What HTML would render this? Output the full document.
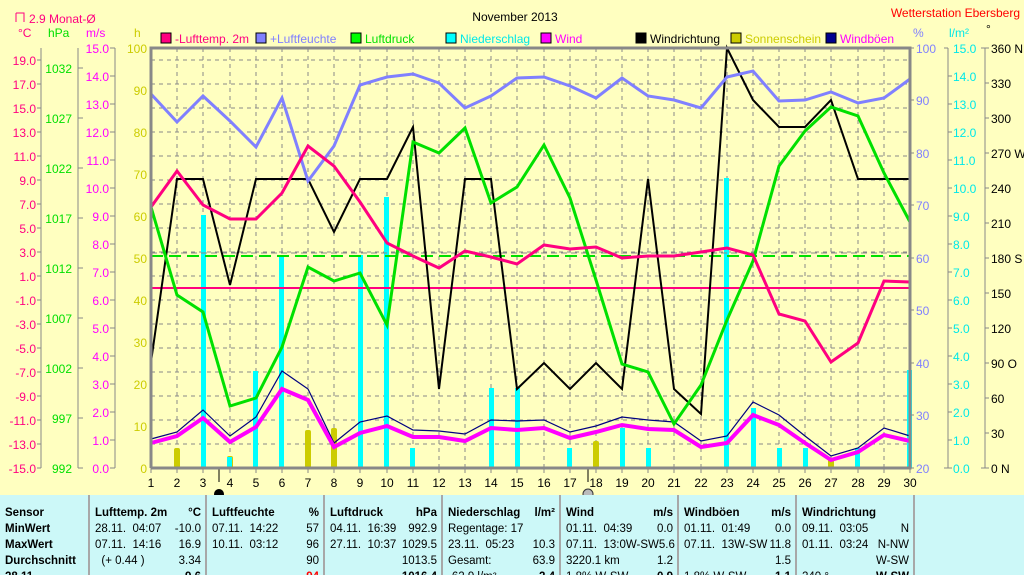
<!DOCTYPE html>
<html><head><meta charset="utf-8"><style>
body{margin:0;width:1024px;height:575px;overflow:hidden;background:#ffffc0;font-family:"Liberation Sans",sans-serif}
svg{position:absolute;left:0;top:0}
text{font-family:"Liberation Sans",sans-serif;font-size:12px}
.tb{position:absolute;left:0;top:495px;width:1024px;height:80px;background:#ccf8f8}
.c{position:absolute;top:0;height:80px;border-right:2px solid #a8a8a8;font-size:11.5px;line-height:16px;padding-top:10px;box-sizing:border-box;overflow:hidden}
.r{display:flex;justify-content:space-between;padding:0 4px 0 5px;white-space:pre;height:16px}
b{font-weight:bold}
</style></head><body>
<svg width="1024" height="495" viewBox="0 0 1024 495">
<g stroke="#888" stroke-dasharray="4,4" stroke-width="1">
<path d="M151 60H910M151 84H910M151 108H910M151 132H910M151 156H910M151 180H910M151 204H910M151 228H910M151 252H910M151 276H910M151 300H910M151 324H910M151 348H910M151 372H910M151 396H910M151 420H910M151 444H910"/>
<path d="M177 48V468M203 48V468M230 48V468M256 48V468M282 48V468M308 48V468M334 48V468M360 48V468M387 48V468M413 48V468M439 48V468M465 48V468M491 48V468M517 48V468M544 48V468M570 48V468M596 48V468M622 48V468M648 48V468M674 48V468M701 48V468M727 48V468M753 48V468M779 48V468M805 48V468M831 48V468M858 48V468M884 48V468"/>
</g>
<g stroke="#888"><path d="M151 468v5M177 468v5M203 468v5M230 468v5M256 468v5M282 468v5M308 468v5M334 468v5M360 468v5M387 468v5M413 468v5M439 468v5M465 468v5M491 468v5M517 468v5M544 468v5M570 468v5M596 468v5M622 468v5M648 468v5M674 468v5M701 468v5M727 468v5M753 468v5M779 468v5M805 468v5M831 468v5M858 468v5M884 468v5M910 468v5"/></g>
<path d="M219 468v14M588 468v14" stroke="#000"/>
<g fill="#cccc00">
<rect x="174" y="448" width="6" height="20" rx="2"/><rect x="227" y="456" width="6" height="12" rx="2"/><rect x="253" y="448" width="5" height="20" rx="2"/><rect x="305" y="430" width="6" height="38" rx="2"/><rect x="331" y="428" width="6" height="40" rx="2"/><rect x="593" y="441" width="6" height="27" rx="2"/><rect x="828" y="458" width="6" height="10" rx="2"/><rect x="907" y="450" width="3" height="18"/>
</g>
<g fill="#00ffff">
<rect x="201" y="215" width="5" height="253"/><rect x="227" y="457" width="5" height="11"/><rect x="253" y="371" width="5" height="97"/><rect x="279" y="255" width="5" height="213"/><rect x="358" y="255" width="5" height="213"/><rect x="384" y="197" width="5" height="271"/><rect x="410" y="448" width="5" height="20"/><rect x="489" y="388" width="5" height="80"/><rect x="515" y="388" width="5" height="80"/><rect x="567" y="448" width="5" height="20"/><rect x="620" y="428" width="5" height="40"/><rect x="646" y="448" width="5" height="20"/><rect x="724" y="178" width="5" height="290"/><rect x="751" y="408" width="5" height="60"/><rect x="777" y="448" width="5" height="20"/><rect x="803" y="448" width="5" height="20"/><rect x="855" y="448" width="5" height="20"/><rect x="907" y="370" width="5" height="98"/>
</g>
<path d="M151 288H910" stroke="#ff0080" stroke-width="2"/>
<path d="M151 253H910" stroke="#888" stroke-dasharray="6,4"/>
<path d="M151 256H910" stroke="#00e000" stroke-width="2" stroke-dasharray="12,6"/>
<polyline fill="none" stroke="#000080" stroke-width="1.2" points="151,439 177,432 203,410 230,436 256,417 282,371 308,389 334,443 360,422 387,416 413,430 439,431 465,434 491,420 517,421 544,420 570,432 596,426 622,417 648,420 674,422 701,441 727,436 753,402 779,415 805,436 831,456 858,448 884,428 910,436"/>
<polyline fill="none" stroke="#ff00ff" stroke-width="4" points="151,443 177,436 203,418 230,442 256,427 282,389 308,400 334,447 360,433 387,426 413,437 439,437 465,441 491,428 517,430 544,428 570,438 596,432 622,425 648,429 674,430 701,447 727,443 753,415 779,425 805,443 831,460 858,452 884,435 910,441"/>
<polyline fill="none" stroke="#000" stroke-width="2" points="151,362 177,179 203,179 230,285 256,179 282,179 308,179 334,232 360,179 387,179 413,127 439,389 465,179 491,179 517,389 544,363 570,389 596,363 622,389 648,179 674,389 701,414 727,48 753,100 779,127 805,127 831,100 858,179 884,179 910,179"/>
<polyline fill="none" stroke="#00e000" stroke-width="3" points="151,207 177,295 203,312 230,406 256,398 282,347 308,267 334,281 360,273 387,325 413,142 439,153 465,128 491,203 517,187 544,145 570,198 596,280 622,364 648,372 674,424 701,385 727,320 753,261 779,166 805,131 831,107 858,116 884,173 910,222"/>
<polyline fill="none" stroke="#8080ff" stroke-width="3" points="151,94 177,122 203,96 230,121 256,147 282,98 308,181 334,146 360,85 387,77 413,74 439,83 465,108 491,96 517,78 544,77 570,86 596,98 622,78 648,96 674,100 701,108 727,77 753,71 779,101 805,100 831,92 858,103 884,98 910,79"/>
<polyline fill="none" stroke="#ff0080" stroke-width="3" points="151,207 177,171 203,205 230,219 256,219 282,193 308,146 334,166 360,202 387,243 413,256 439,268 465,251 491,257 517,264 544,245 570,249 596,247 622,258 648,256 674,256 701,252 727,248 753,255 779,314 805,321 831,362 858,343 884,281 910,282"/>
<path d="M151 468V48H910V468H151" fill="none" stroke="#888" stroke-width="3"/>
<g stroke="#888"><path d="M41 48V468M78 48V468M115 48V468M948 48V468M985 48V468"/>
<path d="M37 60h4M37 84h4M37 108h4M37 132h4M37 156h4M37 180h4M37 204h4M37 228h4M37 252h4M37 276h4M37 300h4M37 324h4M37 348h4M37 372h4M37 396h4M37 420h4M37 444h4M37 468h4"/>
<path d="M78 68h5M78 118h5M78 168h5M78 218h5M78 268h5M78 318h5M78 368h5M78 418h5M78 468h5"/>
<path d="M110 48h5M110 76h5M110 104h5M110 132h5M110 160h5M110 188h5M110 216h5M110 244h5M110 272h5M110 300h5M110 328h5M110 356h5M110 384h5M110 412h5M110 440h5M110 468h5"/>
<path d="M910 48h4M910 100h4M910 153h4M910 205h4M910 258h4M910 310h4M910 363h4M910 415h4M910 468h4"/>
<path d="M944 48h4M948 76h4M948 104h4M948 132h4M948 160h4M948 188h4M948 216h4M948 244h4M948 272h4M948 300h4M948 328h4M948 356h4M948 384h4M948 412h4M948 440h4M944 468h8"/>
<path d="M981 48h8M985 83h4M985 118h4M985 153h4M985 188h4M985 223h4M985 258h4M985 293h4M985 328h4M985 363h4M985 398h4M985 433h4M981 468h8"/>
</g>
<g fill="#ff0080" text-anchor="end"><text x="36" y="65">19.0</text><text x="36" y="89">17.0</text><text x="36" y="113">15.0</text><text x="36" y="137">13.0</text><text x="36" y="161">11.0</text><text x="36" y="185">9.0</text><text x="36" y="209">7.0</text><text x="36" y="233">5.0</text><text x="36" y="257">3.0</text><text x="36" y="281">1.0</text><text x="36" y="305">-1.0</text><text x="36" y="329">-3.0</text><text x="36" y="353">-5.0</text><text x="36" y="377">-7.0</text><text x="36" y="401">-9.0</text><text x="36" y="425">-11.0</text><text x="36" y="449">-13.0</text><text x="36" y="473">-15.0</text></g>
<g fill="#00e000" text-anchor="end"><text x="72" y="73">1032</text><text x="72" y="123">1027</text><text x="72" y="173">1022</text><text x="72" y="223">1017</text><text x="72" y="273">1012</text><text x="72" y="323">1007</text><text x="72" y="373">1002</text><text x="72" y="423">997</text><text x="72" y="473">992</text></g>
<g fill="#ff00ff" text-anchor="end"><text x="109" y="53">15.0</text><text x="109" y="81">14.0</text><text x="109" y="109">13.0</text><text x="109" y="137">12.0</text><text x="109" y="165">11.0</text><text x="109" y="193">10.0</text><text x="109" y="221">9.0</text><text x="109" y="249">8.0</text><text x="109" y="277">7.0</text><text x="109" y="305">6.0</text><text x="109" y="333">5.0</text><text x="109" y="361">4.0</text><text x="109" y="389">3.0</text><text x="109" y="417">2.0</text><text x="109" y="445">1.0</text><text x="109" y="473">0.0</text></g>
<g fill="#cccc00" text-anchor="end"><text x="147" y="53">100</text><text x="147" y="95">90</text><text x="147" y="137">80</text><text x="147" y="179">70</text><text x="147" y="221">60</text><text x="147" y="263">50</text><text x="147" y="305">40</text><text x="147" y="347">30</text><text x="147" y="389">20</text><text x="147" y="431">10</text><text x="147" y="473">0</text></g>
<g fill="#8080ff"><text x="916" y="53">100</text><text x="916" y="105">90</text><text x="916" y="158">80</text><text x="916" y="210">70</text><text x="916" y="263">60</text><text x="916" y="315">50</text><text x="916" y="368">40</text><text x="916" y="420">30</text><text x="916" y="473">20</text></g>
<g fill="#00e8e8"><text x="953" y="53">15.0</text><text x="953" y="81">14.0</text><text x="953" y="109">13.0</text><text x="953" y="137">12.0</text><text x="953" y="165">11.0</text><text x="953" y="193">10.0</text><text x="953" y="221">9.0</text><text x="953" y="249">8.0</text><text x="953" y="277">7.0</text><text x="953" y="305">6.0</text><text x="953" y="333">5.0</text><text x="953" y="361">4.0</text><text x="953" y="389">3.0</text><text x="953" y="417">2.0</text><text x="953" y="445">1.0</text><text x="953" y="473">0.0</text></g>
<g fill="#000"><text x="991" y="53">360 N</text><text x="991" y="88">330</text><text x="991" y="123">300</text><text x="991" y="158">270 W</text><text x="991" y="193">240</text><text x="991" y="228">210</text><text x="991" y="263">180 S</text><text x="991" y="298">150</text><text x="991" y="333">120</text><text x="991" y="368">90  O</text><text x="991" y="403">60</text><text x="991" y="438">30</text><text x="991" y="473">0   N</text></g>
<g fill="#000" text-anchor="middle"><text x="151" y="487">1</text><text x="177" y="487">2</text><text x="203" y="487">3</text><text x="230" y="487">4</text><text x="256" y="487">5</text><text x="282" y="487">6</text><text x="308" y="487">7</text><text x="334" y="487">8</text><text x="360" y="487">9</text><text x="387" y="487">10</text><text x="413" y="487">11</text><text x="439" y="487">12</text><text x="465" y="487">13</text><text x="491" y="487">14</text><text x="517" y="487">15</text><text x="544" y="487">16</text><text x="570" y="487">17</text><text x="596" y="487">18</text><text x="622" y="487">19</text><text x="648" y="487">20</text><text x="674" y="487">21</text><text x="701" y="487">22</text><text x="727" y="487">23</text><text x="753" y="487">24</text><text x="779" y="487">25</text><text x="805" y="487">26</text><text x="831" y="487">27</text><text x="858" y="487">28</text><text x="884" y="487">29</text><text x="910" y="487">30</text></g>
<circle cx="219" cy="494" r="5" fill="#000"/><circle cx="588" cy="494" r="5" fill="#bbb" stroke="#333"/>
<path d="M16 13h8v9M16 13v9" fill="none" stroke="#ff0080"/>
<text x="29" y="23" fill="#ff0080">2.9 Monat-Ø</text>
<text x="18" y="37" fill="#ff0080">°C</text><text x="48" y="37" fill="#00e000">hPa</text><text x="86" y="37" fill="#ff00ff">m/s</text><text x="134" y="37" fill="#cccc00">h</text>
<text x="515" y="21" fill="#000" font-size="14" text-anchor="middle">November 2013</text>
<text x="1020" y="17" fill="#ff0000" text-anchor="end">Wetterstation Ebersberg</text>
<text x="913" y="37" fill="#8080ff">%</text><text x="949" y="37" fill="#00e8e8">l/m²</text><text x="986" y="33" fill="#000">°</text>
<g stroke="#000"><rect x="161" y="33" width="10" height="10" fill="#ff0080"/><rect x="256" y="33" width="10" height="10" fill="#8080ff"/><rect x="351" y="33" width="10" height="10" fill="#00ff00"/><rect x="446" y="33" width="10" height="10" fill="#00ffff"/><rect x="541" y="33" width="10" height="10" fill="#ff00ff"/><rect x="636" y="33" width="10" height="10" fill="#000"/><rect x="731" y="33" width="10" height="10" fill="#cccc00"/><rect x="826" y="33" width="10" height="10" fill="#000090"/></g>
<g font-size="11.5"><text x="175" y="43" fill="#ff0080">-Lufttemp. 2m</text><text x="270" y="43" fill="#8080ff">+Luftfeuchte</text><text x="365" y="43" fill="#00e000">Luftdruck</text><text x="460" y="43" fill="#00e8e8">Niederschlag</text><text x="555" y="43" fill="#ff00ff">Wind</text><text x="650" y="43" fill="#000">Windrichtung</text><text x="745" y="43" fill="#cccc00">Sonnenschein</text><text x="840" y="43" fill="#ff00ff">Windböen</text></g>
</svg>
<div class="tb">
<div class="c" style="left:0;width:90px"><div class="r"><b>Sensor</b></div><div class="r"><b>MinWert</b></div><div class="r"><b>MaxWert</b></div><div class="r"><b>Durchschnitt</b></div><div class="r"><b>28.11.</b></div></div>
<div class="c" style="left:90px;width:117px"><div class="r"><b>Lufttemp. 2m</b><b>°C</b></div><div class="r"><span>28.11.  04:07</span><span>-10.0</span></div><div class="r"><span>07.11.  14:16</span><span>16.9</span></div><div class="r"><span>  (+ 0.44 )</span><span>3.34</span></div><div class="r"><span></span><b>-9.6</b></div></div>
<div class="c" style="left:207px;width:118px"><div class="r"><b>Luftfeuchte</b><b>%</b></div><div class="r"><span>07.11.  14:22</span><span>57</span></div><div class="r"><span>10.11.  03:12</span><span>96</span></div><div class="r"><span></span><span>90</span></div><div class="r"><span></span><b style="color:red">94</b></div></div>
<div class="c" style="left:325px;width:118px"><div class="r"><b>Luftdruck</b><b>hPa</b></div><div class="r"><span>04.11.  16:39</span><span>992.9</span></div><div class="r"><span>27.11.  10:37</span><span>1029.5</span></div><div class="r"><span></span><span>1013.5</span></div><div class="r"><span></span><b>1016.4</b></div></div>
<div class="c" style="left:443px;width:118px"><div class="r"><b>Niederschlag</b><b>l/m²</b></div><div class="r"><span>Regentage: 17</span><span></span></div><div class="r"><span>23.11.  05:23</span><span>10.3</span></div><div class="r"><span>Gesamt:</span><span>63.9</span></div><div class="r"><span>-62.9 l/m²</span><b>2.4</b></div></div>
<div class="c" style="left:561px;width:118px"><div class="r"><b>Wind</b><b>m/s</b></div><div class="r"><span>01.11.  04:39</span><span>0.0</span></div><div class="r"><span>07.11.  13:0W-SW</span><span>5.6</span></div><div class="r"><span>3220.1 km</span><span>1.2</span></div><div class="r"><span>1.8% W-SW</span><b>0.9</b></div></div>
<div class="c" style="left:679px;width:118px"><div class="r"><b>Windböen</b><b>m/s</b></div><div class="r"><span>01.11.  01:49</span><span>0.0</span></div><div class="r"><span>07.11.  13W-SW</span><span>11.8</span></div><div class="r"><span></span><span>1.5</span></div><div class="r"><span>1.8% W-SW</span><b>1.1</b></div></div>
<div class="c" style="left:797px;width:118px"><div class="r"><b>Windrichtung</b></div><div class="r"><span>09.11.  03:05</span><span>N</span></div><div class="r"><span>01.11.  03:24</span><span>N-NW</span></div><div class="r"><span></span><span>W-SW</span></div><div class="r"><span>240 °</span><b>W-SW</b></div></div>
</div>
</body></html>
